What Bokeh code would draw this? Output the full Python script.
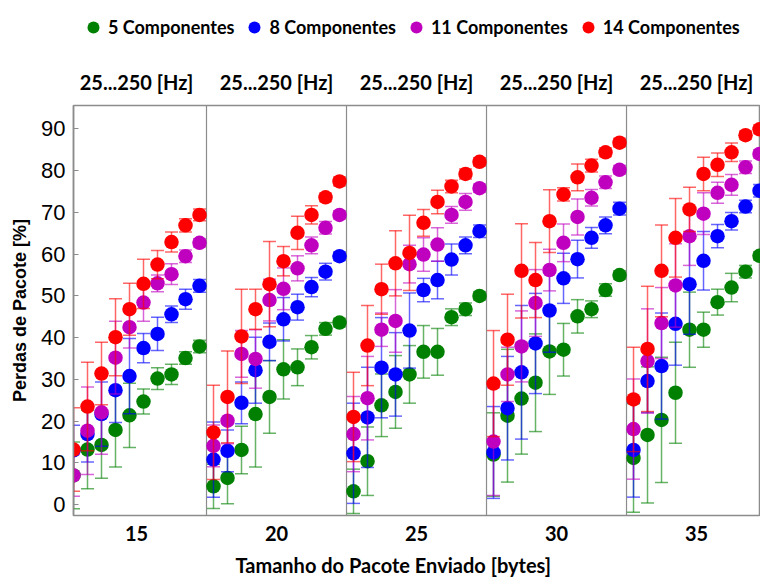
from bokeh.plotting import figure
from bokeh.layouts import column
from bokeh.models import Range1d, FixedTicker, LinearAxis, Span, Legend, LegendItem, ColumnDataSource, Title
from bokeh.embed import file_html
from bokeh.resources import INLINE

# ---------------- data ----------------
packet_sizes = ["15", "20", "25", "30", "35"]          # bytes, one panel each
freq_label = "25...250 [Hz]"                            # 10 frequencies per panel
n_freq = 10
y_ticks = [0, 10, 20, 30, 40, 50, 60, 70, 80, 90]

series_names = ["5 Componentes", "8 Componentes", "11 Componentes", "14 Componentes"]

green_vals = [7.0, 13.2, 14.3, 17.9, 21.4, 24.7, 30.2, 31.2, 35.1, 37.9,
              4.4, 6.4, 13.1, 21.7, 25.8, 32.4, 32.9, 37.7, 42.1, 43.6,
              3.2, 10.4, 23.8, 27.0, 31.2, 36.6, 36.6, 44.9, 46.8, 50.0,
              12.0, 21.3, 25.4, 29.2, 36.7, 37.1, 45.1, 46.8, 51.4, 55.0,
              11.2, 16.7, 20.3, 26.8, 41.9, 41.9, 48.5, 52.0, 55.8, 59.6]
green_err = [8, 9.4, 8, 8.9, 7.7, 3, 2.6, 2.4, 1.5, 1.5,
             5.3, 6.2, 5.7, 12.7, 8.7, 7.1, 4.4, 2.8, 1.5, 1,
             5.3, 8.2, 7.5, 8.7, 6.9, 6.3, 5.6, 2, 1.5, 1,
             10, 15.9, 13.3, 11.7, 10.3, 6.3, 4, 2, 1.5, 1,
             13, 16.3, 15, 12.1, 9, 4.2, 3.1, 3.4, 1.5, 1]

blue_vals = [13.0, 16.9, 21.7, 27.4, 30.8, 37.5, 40.9, 45.6, 49.2, 52.4,
             10.8, 12.9, 24.4, 32.2, 39.0, 44.4, 47.3, 52.1, 55.8, 59.5,
             12.3, 20.9, 32.8, 31.2, 41.7, 51.4, 53.8, 58.7, 62.1, 65.5,
             12.5, 23.1, 31.7, 38.6, 46.5, 54.2, 58.8, 63.9, 66.9, 70.9,
             13.1, 29.6, 33.2, 43.3, 52.8, 58.4, 64.3, 67.9, 71.4, 75.2]
blue_err = [6, 6.7, 7.7, 7.7, 9, 3.5, 4, 2, 2.4, 1.5,
            9, 5, 5, 7.9, 4.5, 5.2, 3.1, 2.3, 2, 1,
            12, 12, 12, 10, 9, 2.8, 4.5, 3.7, 2, 1.5,
            11, 12.4, 16, 12, 10, 6, 4.5, 2.5, 2, 1.5,
            11.3, 7.5, 12.7, 9.9, 12, 7, 2.8, 2.1, 1.5, 1.5]

magenta_vals = [7.0, 17.7, 22.1, 35.2, 42.5, 48.4, 53.0, 55.2, 59.5, 62.7,
                14.1, 20.1, 36.1, 34.9, 49.0, 51.7, 56.6, 62.1, 66.3, 69.4,
                16.9, 25.5, 41.9, 44.0, 57.6, 59.9, 62.3, 69.4, 72.5, 75.8,
                15.1, 31.2, 37.9, 48.3, 56.2, 62.7, 68.9, 73.5, 77.2, 80.2,
                18.1, 34.4, 43.5, 52.5, 64.3, 69.7, 74.7, 76.6, 80.8, 84.0]
magenta_err = [5, 10.5, 10, 8.7, 5, 4.5, 2, 2.5, 1.5, 1,
               5, 5.5, 5.6, 7, 5, 5, 3, 2, 1.5, 1,
               9, 10, 4, 7.5, 4.5, 4, 4, 2, 2, 1,
               12.9, 6.5, 8.5, 8, 5, 4.5, 4.3, 2, 1.5, 1,
               12, 12.5, 8.5, 10, 7, 5, 2.5, 2.5, 1.5, 1]

red_vals = [13.2, 23.5, 31.4, 40.1, 46.8, 52.9, 57.5, 62.9, 66.9, 69.4,
            17.3, 25.8, 40.3, 46.8, 52.8, 58.3, 65.1, 69.4, 73.6, 77.4,
            21.0, 38.1, 51.6, 57.8, 60.3, 67.5, 72.5, 76.2, 79.2, 82.1,
            29.0, 39.5, 56.0, 53.8, 67.9, 74.3, 78.4, 81.2, 84.4, 86.7,
            25.2, 37.3, 56.0, 63.9, 70.7, 79.2, 81.4, 84.4, 88.5, 89.9]
red_err = [10, 10.6, 7.5, 9.2, 6.2, 5.9, 3.4, 2.4, 1.6, 1.4,
           11.3, 11, 11.3, 4.8, 10.2, 3.5, 4, 2.2, 1, 1,
           10.7, 9.6, 6, 7.8, 9, 3.2, 2.8, 1.5, 1.2, 1,
           12.7, 10.9, 11.3, 9, 7.5, 1.6, 3.2, 1.5, 1, 1,
           12.5, 15, 11, 9.4, 5.3, 4, 2.8, 2.2, 1, 1]

x_title = "Tamanho do Pacote Enviado [bytes]"
y_title = "Perdas de Pacote [%]"

# ---------------- style ----------------
colors = ["#008000", "#0000ff", "#bf00bf", "#ff0000"]
GRAY = "#8c8c8c"
CAL = "Lato"
ARIAL = "Liberation Sans"
LEG_H = 50

n_panels = len(packet_sizes)
x_pos = [p * n_freq + j for p in range(n_panels) for j in range(n_freq)]
panel_centers = [p * n_freq + (n_freq - 1) / 2 for p in range(n_panels)]

p = figure(width=760, height=583 - LEG_H, output_backend="svg", toolbar_location=None,
           x_range=Range1d(0, 49.07), y_range=Range1d(-2.6, 95.6),
           min_border_left=73, min_border_right=0, min_border_top=105 - LEG_H,
           min_border_bottom=66)
p.xgrid.visible = False
p.ygrid.visible = False
p.outline_line_color = GRAY
p.outline_line_width = 1.5

# y axis
ya = p.yaxis[0]
ya.ticker = FixedTicker(ticks=y_ticks)
ya.axis_line_color = GRAY
ya.axis_line_width = 1.5
ya.major_tick_line_color = GRAY
ya.major_tick_in = 5
ya.major_tick_out = 0
ya.minor_tick_line_color = None
ya.major_label_text_font = ARIAL
ya.major_label_text_font_size = "22px"
ya.major_label_text_color = "black"
ya.major_label_standoff = 8
ya.axis_label = y_title
ya.axis_label_text_font = ARIAL
ya.axis_label_text_font_style = "bold"
ya.axis_label_text_font_size = "18px"
ya.axis_label_text_color = "black"
ya.axis_label_standoff = 8

# x axis (packet sizes at panel centers)
xa = p.xaxis[0]
xa.ticker = FixedTicker(ticks=panel_centers)
xa.major_label_overrides = {c: s for c, s in zip(panel_centers, packet_sizes)}
xa.axis_line_color = None
xa.major_tick_line_color = None
xa.minor_tick_line_color = None
xa.major_label_text_font = CAL
xa.major_label_text_font_style = "bold"
xa.major_label_text_font_size = "20px"
xa.major_label_text_color = "black"
xa.major_label_standoff = 4

p.add_layout(Title(text=x_title, align="left", offset=162, text_font=CAL,
                   text_font_style="bold", text_font_size="20px", text_color="black",
                   standoff=14), "below")

# top axis (frequency sweep label)
ta = LinearAxis(ticker=FixedTicker(ticks=panel_centers),
                major_label_overrides={c: freq_label for c in panel_centers})
ta.axis_line_color = None
ta.major_tick_line_color = None
ta.minor_tick_line_color = None
ta.major_label_text_font = CAL
ta.major_label_text_font_style = "bold"
ta.major_label_text_font_size = "20px"
ta.major_label_text_color = "black"
ta.major_label_standoff = 6
p.add_layout(ta, "above")

# panel separators
for k in range(1, n_panels):
    p.add_layout(Span(location=k * n_freq - 0.5, dimension="height",
                      line_color=GRAY, line_width=1.2, level="underlay"))

# legend strip on top
lf = figure(width=760, height=LEG_H, output_backend="svg", toolbar_location=None,
            x_axis_location=None, y_axis_location=None, min_border=0,
            x_range=Range1d(0, 1), y_range=Range1d(0, 1))
lf.xgrid.visible = False
lf.ygrid.visible = False
lf.outline_line_color = None

all_vals = [green_vals, blue_vals, magenta_vals, red_vals]
all_errs = [green_err, blue_err, magenta_err, red_err]
items = []
for name, col, vals, errs in zip(series_names, colors, all_vals, all_errs):
    src = ColumnDataSource(dict(
        x=x_pos, y=vals,
        lo=[v - e for v, e in zip(vals, errs)],
        hi=[v + e for v, e in zip(vals, errs)]))
    p.segment(x0="x", y0="lo", x1="x", y1="hi", source=src,
              line_color=col, line_alpha=0.6, line_width=1.5)
    p.scatter(x="x", y="hi", source=src, marker="dash", size=13,
              line_color=col, line_alpha=0.6, line_width=1.5)
    p.scatter(x="x", y="lo", source=src, marker="dash", size=13,
              line_color=col, line_alpha=0.6, line_width=1.5)
    p.scatter(x="x", y="y", source=src, size=14.5, fill_color=col, line_color=None)
    # off-range point only to give the legend its glyph
    lr = lf.scatter(x=[-5], y=[-5], size=14, fill_color=col, line_color=None)
    items.append(LegendItem(label=name, renderers=[lr]))

legend = Legend(items=items, orientation="horizontal", location=(5, 8),
                glyph_width=30, glyph_height=30, label_standoff=-4, spacing=5,
                padding=0, margin=0, border_line_color=None, background_fill_alpha=0,
                label_text_font=CAL, label_text_font_style="bold",
                label_text_font_size="18px", label_text_color="black")
lf.add_layout(legend, "center")

layout = column(lf, p, spacing=0)
open("out.html", "w").write(file_html(layout, INLINE))
